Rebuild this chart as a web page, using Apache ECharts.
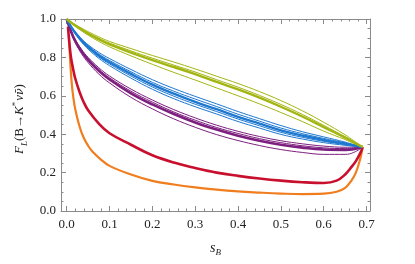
<!DOCTYPE html>
<html><head><meta charset="utf-8">
<script src="https://cdn.jsdelivr.net/npm/echarts@6/dist/echarts.min.js"></script>
<style>html,body{margin:0;padding:0;background:#fff}#c{width:415px;height:264px}</style>
</head><body><div id="c"></div>
<script>
// ---- data ----
const xMain = [0, 0.01, 0.02, 0.035, 0.05, 0.075, 0.1, 0.15, 0.2, 0.25, 0.3, 0.35, 0.4, 0.45, 0.5, 0.55, 0.6, 0.65, 0.67, 0.691];
const greenMid = [1.0, 0.982, 0.966, 0.944, 0.924, 0.894, 0.868, 0.825, 0.786, 0.75, 0.713, 0.672, 0.633, 0.59, 0.543, 0.492, 0.437, 0.382, 0.358, 0.333];
const greenUp  = [1.0, 0.985, 0.971, 0.952, 0.934, 0.907, 0.883, 0.846, 0.81, 0.776, 0.74, 0.702, 0.664, 0.622, 0.575, 0.522, 0.462, 0.397, 0.366, 0.333];
const greenUp2 = [1.0, 0.983, 0.968, 0.948, 0.928, 0.9, 0.875, 0.834, 0.796, 0.76, 0.724, 0.684, 0.645, 0.602, 0.555, 0.503, 0.446, 0.387, 0.361, 0.333];
const greenLo  = [1.0, 0.98, 0.962, 0.938, 0.916, 0.883, 0.855, 0.808, 0.764, 0.722, 0.682, 0.641, 0.6, 0.558, 0.513, 0.466, 0.416, 0.372, 0.352, 0.333];
const blueMid = [1.0, 0.96, 0.928, 0.888, 0.855, 0.81, 0.775, 0.714, 0.658, 0.611, 0.568, 0.53, 0.49, 0.455, 0.42, 0.393, 0.37, 0.35, 0.342, 0.333];
const blueUp2 = [1.0, 0.963, 0.933, 0.896, 0.866, 0.826, 0.794, 0.737, 0.684, 0.638, 0.597, 0.558, 0.518, 0.481, 0.445, 0.413, 0.386, 0.359, 0.346, 0.333];
const blueUp1 = [1.0, 0.962, 0.931, 0.892, 0.861, 0.818, 0.784, 0.725, 0.67, 0.624, 0.583, 0.544, 0.504, 0.468, 0.432, 0.403, 0.378, 0.355, 0.344, 0.333];
const blueLo1 = [1.0, 0.959, 0.925, 0.883, 0.849, 0.802, 0.766, 0.703, 0.646, 0.598, 0.556, 0.518, 0.479, 0.444, 0.41, 0.384, 0.363, 0.346, 0.339, 0.333];
const blueLo2 = [1.0, 0.957, 0.922, 0.878, 0.843, 0.795, 0.757, 0.692, 0.634, 0.585, 0.543, 0.505, 0.466, 0.432, 0.399, 0.375, 0.356, 0.342, 0.337, 0.333];
const purpleMid = [1.0, 0.935, 0.885, 0.83, 0.787, 0.73, 0.685, 0.613, 0.555, 0.505, 0.461, 0.424, 0.392, 0.366, 0.345, 0.33, 0.32, 0.318, 0.322, 0.333];
const purpleUp  = [1.0, 0.94, 0.893, 0.841, 0.8, 0.746, 0.703, 0.635, 0.578, 0.528, 0.485, 0.447, 0.415, 0.388, 0.366, 0.35, 0.338, 0.332, 0.332, 0.333];
const purpleUp2 = [1.0, 0.938, 0.889, 0.835, 0.794, 0.738, 0.694, 0.624, 0.567, 0.516, 0.473, 0.435, 0.404, 0.377, 0.356, 0.34, 0.329, 0.325, 0.327, 0.333];
const purpleLo  = [1.0, 0.93, 0.877, 0.818, 0.773, 0.713, 0.667, 0.592, 0.532, 0.48, 0.436, 0.398, 0.367, 0.341, 0.32, 0.305, 0.295, 0.295, 0.305, 0.333];
const xRed = [0.003, 0.006, 0.01, 0.015, 0.02, 0.03, 0.04, 0.05, 0.075, 0.1, 0.15, 0.2, 0.25, 0.3, 0.35, 0.4, 0.45, 0.5, 0.55, 0.6, 0.63, 0.65, 0.665, 0.675, 0.685, 0.691];
const redVals = [0.96, 0.88, 0.8, 0.74, 0.69, 0.62, 0.565, 0.525, 0.455, 0.405, 0.345, 0.29, 0.252, 0.224, 0.2, 0.183, 0.169, 0.158, 0.15, 0.146, 0.158, 0.19, 0.23, 0.26, 0.3, 0.333];
const xOrange = [0.005, 0.007, 0.009, 0.012, 0.015, 0.02, 0.03, 0.04, 0.05, 0.06, 0.08, 0.1, 0.15, 0.2, 0.25, 0.3, 0.35, 0.4, 0.45, 0.5, 0.55, 0.6, 0.63, 0.65, 0.665, 0.675, 0.685, 0.691];
const orangeVals = [0.917, 0.83, 0.75, 0.66, 0.6, 0.53, 0.44, 0.38, 0.34, 0.31, 0.268, 0.235, 0.19, 0.157, 0.138, 0.123, 0.111, 0.102, 0.096, 0.091, 0.088, 0.09, 0.1, 0.12, 0.16, 0.2, 0.27, 0.333];

const xMajor = [0, 0.1, 0.2, 0.3, 0.4, 0.5, 0.6, 0.7];
const xTickLabels = ['0.0', '0.1', '0.2', '0.3', '0.4', '0.5', '0.6', '0.7'];
const xMinor = [0.02,0.04,0.06,0.08,0.12,0.14,0.16,0.18,0.22,0.24,0.26,0.28,0.32,0.34,0.36,0.38,0.42,0.44,0.46,0.48,0.52,0.54,0.56,0.58,0.62,0.64,0.66,0.68];
const yMajor = [0, 0.2, 0.4, 0.6, 0.8, 1.0];
const yTickLabels = ['0.0', '0.2', '0.4', '0.6', '0.8', '1.0'];
const yMinor = [0.05,0.1,0.15,0.25,0.3,0.35,0.45,0.5,0.55,0.65,0.7,0.75,0.85,0.9,0.95];

// ---- chart ----
const FONT = 'Liberation Serif';
const frameColor = '#8a8a8a';
const X_MIN = -0.0133, X_MAX = 0.708;
function pairs(xs, ys){ return xs.map((x,i)=>[x, ys[i]]); }
function fmt(labels, majors){ return v => { const i = majors.findIndex(m => Math.abs(m - v) < 1e-6); return i >= 0 ? labels[i] : ''; }; }

function xAx(pos, vals, len, showLine, showLabel){
  return {type:'value', position:pos, min:X_MIN, max:X_MAX,
    axisLine:{show:showLine, onZero:false, lineStyle:{color:frameColor, width:1}},
    axisTick:{show:true, inside:true, length:len, customValues:vals, lineStyle:{color:frameColor, width:1}},
    axisLabel:{show:showLabel, customValues:xMajor, formatter:fmt(xTickLabels, xMajor), color:'#222', fontFamily:FONT, fontSize:13, margin:7},
    splitLine:{show:false}};
}
function yAx(pos, vals, len, showLine, showLabel){
  return {type:'value', position:pos, min:0, max:1,
    axisLine:{show:showLine, onZero:false, lineStyle:{color:frameColor, width:1}},
    axisTick:{show:true, inside:true, length:len, customValues:vals, lineStyle:{color:frameColor, width:1}},
    axisLabel:{show:showLabel, customValues:yMajor, formatter:fmt(yTickLabels, yMajor), color:'#222', fontFamily:FONT, fontSize:13, margin:5},
    splitLine:{show:false}};
}

const xAxes = [xAx('bottom', xMajor, 5, true, true), xAx('bottom', xMinor, 2.5, false, false),
               xAx('top', xMajor, 5, true, false), xAx('top', xMinor, 2.5, false, false)];
xAxes[0].name = '{it|s}{sub|B}';
xAxes[0].nameLocation = 'middle';
xAxes[0].nameGap = 30;
xAxes[0].nameTextStyle = {fontFamily:FONT, color:'#222', rich:{
  it:{fontFamily:FONT, fontStyle:'italic', fontSize:14, color:'#222', lineHeight:16, verticalAlign:'top'},
  sub:{fontFamily:FONT, fontStyle:'italic', fontSize:9, color:'#222', lineHeight:16, verticalAlign:'bottom', padding:[6,0,0,0]}}};
const yAxes = [yAx('left', yMajor, 5, true, true), yAx('left', yMinor, 2.5, false, false),
               yAx('right', yMajor, 5, true, false), yAx('right', yMinor, 2.5, false, false)];
yAxes[0].name = '{it|F}{sub|L}{n|(B→}{it|K}{sup|*}{it|ν}{bar|ν̄}{n|)}';
yAxes[0].nameLocation = 'middle';
yAxes[0].nameGap = 31;
yAxes[0].nameRotate = 90;
yAxes[0].nameTextStyle = {fontFamily:FONT, color:'#222', padding:[0,8,0,0], rich:{
  it:{fontFamily:FONT, fontStyle:'italic', fontSize:13, color:'#222', lineHeight:18},
  bar:{fontFamily:'DejaVu Serif', fontStyle:'italic', fontSize:11, color:'#222', lineHeight:18},
  n:{fontFamily:FONT, fontSize:13, color:'#222', lineHeight:18},
  sub:{fontFamily:FONT, fontStyle:'italic', fontSize:9, color:'#222', lineHeight:18, verticalAlign:'bottom', padding:[7,0,0,0]},
  sup:{fontFamily:FONT, fontSize:9, color:'#222', lineHeight:18, verticalAlign:'top', padding:[0,1,6,0]}}};

function line(data, color, width){
  return {type:'line', xAxisIndex:0, yAxisIndex:0, data:data, showSymbol:false, symbol:'none',
    smooth:0.4, lineStyle:{color:color, width:width}, silent:true, z:2};
}
const GREEN = '#a3b512', BLUE = '#1e78cf', PURPLE = '#7c1f7e', RED = '#c8102e', ORANGE = '#f07d1e';
const series = [
  line(pairs(xOrange, orangeVals), ORANGE, 2.2),
  line(pairs(xRed, redVals), RED, 2.6),
  line(pairs(xMain, purpleUp), PURPLE, 1),
  line(pairs(xMain, purpleUp2), PURPLE, 1),
  line(pairs(xMain, purpleLo), PURPLE, 1),
  line(pairs(xMain, purpleMid), PURPLE, 2.6),
  line(pairs(xMain, blueUp2), BLUE, 1),
  line(pairs(xMain, blueUp1), BLUE, 1),
  line(pairs(xMain, blueLo1), BLUE, 1),
  line(pairs(xMain, blueLo2), BLUE, 1),
  line(pairs(xMain, blueMid), BLUE, 2.4),
  line(pairs(xMain, greenUp), GREEN, 1),
  line(pairs(xMain, greenUp2), GREEN, 1),
  line(pairs(xMain, greenLo), GREEN, 1),
  line(pairs(xMain, greenMid), GREEN, 2.4)
];

const chart = echarts.init(document.getElementById('c'), null, {renderer:'canvas'});
chart.setOption({
  animation:false,
  backgroundColor:'#fff',
  grid:{left:61, right:45, top:19, bottom:53, containLabel:false},
  xAxis:xAxes, yAxis:yAxes, series:series
});
</script></body></html>
